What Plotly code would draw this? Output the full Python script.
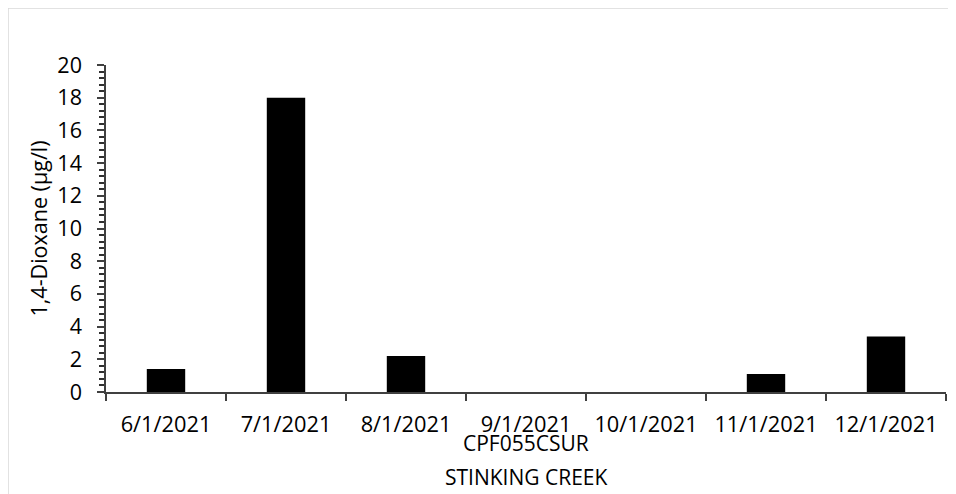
import plotly.graph_objects as go

categories = ["6/1/2021", "7/1/2021", "8/1/2021", "9/1/2021", "10/1/2021", "11/1/2021", "12/1/2021"]
values = [1.4, 18.0, 2.2, None, None, 1.1, 3.4]
y_title = "1,4-Dioxane (µg/l)"
x_title_1 = "CPF055CSUR"
x_title_2 = "STINKING CREEK"

FONT = "Open Sans"
W, H = 956, 494
L, R, T, B = 98, 18, 57, 110
pw = W - L - R
ph = H - T - B

fig = go.Figure()
fig.add_trace(go.Bar(x=categories, y=values, marker=dict(color="#000000", line=dict(width=0)),
                     width=0.32))

fig.update_layout(
    width=W, height=H,
    margin=dict(l=L, r=R, t=T, b=B, autoexpand=False),
    paper_bgcolor="white", plot_bgcolor="white",
    font=dict(family=FONT, size=21, color="#000000"),
    showlegend=False,
)
fig.update_xaxes(
    type="category", showgrid=False, zeroline=False, automargin=False,
    showline=True, linecolor="#404040", linewidth=1.5,
    ticks="outside", tickson="boundaries", ticklen=7, tickwidth=1.5, tickcolor="#404040",
    tickfont=dict(family=FONT, size=21.8), ticklabelstandoff=12,
)
fig.update_yaxes(
    range=[0, 20], dtick=2, showgrid=False, zeroline=False, automargin=False,
    showline=True, linecolor="#404040", linewidth=1.5,
    ticks="outside", ticklen=7, tickwidth=1.5, tickcolor="#404040",
    minor=dict(dtick=0.4, ticks="outside", ticklen=5, tickwidth=1.5, tickcolor="#303030", showgrid=False),
    tickfont=dict(family=FONT, size=21.5), ticklabelstandoff=11,
    title=dict(text=y_title, font=dict(family=FONT, size=21.5), standoff=4),
)

fig.add_annotation(text=x_title_1, xref="paper", yref="paper", x=0.5,
                   y=-(435 - (T + ph)) / ph, yanchor="middle", showarrow=False,
                   font=dict(family=FONT, size=21))
fig.add_annotation(text=x_title_2, xref="paper", yref="paper", x=0.5,
                   y=-(469 - (T + ph)) / ph, yanchor="middle", showarrow=False,
                   font=dict(family=FONT, size=21))

# light grey chart border (only top and left edges fall inside the view)
fx0 = -L / pw
fx1 = (W - L) / pw
fy1 = 1 + T / ph
fy0 = -B / ph
fig.add_shape(type="line", xref="paper", yref="paper", x0=fx0, x1=fx1, y0=fy1, y1=fy1,
              line=dict(color="#d9d9d9", width=1.5), layer="below")
fig.add_shape(type="line", xref="paper", yref="paper", x0=fx0, x1=fx0, y0=fy0, y1=fy1,
              line=dict(color="#d9d9d9", width=1.5), layer="below")

fig.write_html("out.html",
               post_script="document.documentElement.style.overflow='hidden';document.body.style.overflow='hidden';")
